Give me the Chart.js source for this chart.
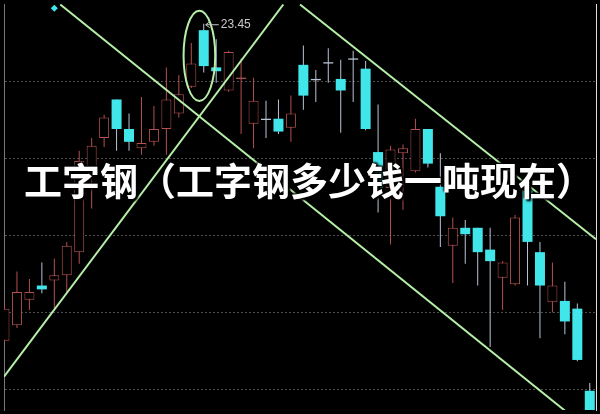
<!DOCTYPE html>
<html>
<head>
<meta charset="utf-8">
<script src="https://cdn.jsdelivr.net/npm/chart.js@4"></script>
<style>
	body { margin: 0; background: #000; }
	#wrap { position: relative; width: 600px; height: 414px; overflow: hidden; }
	#c { display: block; }
	#caption {
		position: absolute;
		left: 24px;
		top: 156px;
		font: 700 38px "Noto Sans CJK SC", sans-serif;
		line-height: 46px;
		color: #fff;
		white-space: nowrap;
		text-shadow: 2px 2px 2px #000, -1px -1px 2px #000, 2px -1px 2px #000;
	}
</style>
</head>
<body>
<div id="wrap">
	<canvas id="c" width="600" height="414"></canvas>
	<div id="caption">工字钢（工字钢多少钱一吨现在）</div>
</div>
<script>
const opens = [20.98, 21.10, 21.30, 21.41, 21.45, 21.49, 21.67, 22.27, 22.56, 22.86,
	22.63, 22.48, 22.53, 22.63, 22.75, 22.96, 23.40, 23.11, 22.93, 23.02,
	22.67, 22.71, 22.71, 22.64, 23.13, 23.02, 23.15, 23.02, 23.18, 23.10,
	22.45, 22.17, 22.44, 22.30, 22.63, 22.18, 21.72, 21.86, 21.86, 21.69,
	21.47, 21.42, 22.15, 21.67, 21.28, 21.29, 21.23, 20.59];
const closes = [21.23, 21.36, 21.36, 21.38, 21.49, 21.72, 22.38, 22.50, 22.72, 22.63,
	22.53, 22.52, 22.63, 22.86, 22.90, 23.14, 23.12, 23.08, 23.23, 23.03,
	22.85, 22.70, 22.61, 22.75, 22.89, 23.01, 23.14, 22.93, 23.17, 22.63,
	22.17, 22.47, 22.48, 22.63, 22.36, 21.95, 21.86, 21.81, 21.67, 21.60,
	21.59, 21.94, 21.75, 21.41, 21.41, 21.13, 20.83, 20.39];
const highs = [21.25, 21.52, 21.46, 21.59, 21.62, 21.75, 22.46, 22.56, 22.74, 22.86,
	22.75, 22.88, 22.81, 23.11, 23.05, 23.30, 23.45, 23.33, 23.24, 23.18,
	23.03, 22.85, 22.86, 22.89, 23.28, 23.09, 23.26, 23.17, 23.24, 23.16,
	22.82, 22.50, 22.51, 22.71, 22.63, 22.44, 21.94, 21.92, 21.86, 21.86,
	21.60, 21.96, 22.17, 21.75, 21.59, 21.44, 21.27, 20.65];
const lows = [20.97, 21.08, 21.22, 21.35, 21.23, 21.36, 21.58, 22.01, 22.49, 22.46,
	22.46, 22.43, 22.50, 22.43, 22.72, 22.95, 23.07, 22.99, 22.92, 22.59,
	22.48, 22.56, 22.59, 22.53, 22.78, 22.84, 22.99, 22.60, 22.84, 22.62,
	21.98, 21.73, 22.00, 22.29, 22.33, 21.71, 21.43, 21.58, 21.41, 20.93,
	21.22, 21.41, 21.41, 21.00, 21.20, 21.03, 20.82, 20.35];

const gridPrices = [20.6, 21.2, 21.8, 22.4, 23.0];

// hand drawn trend lines (candle index, price)
const trendDown1 = [{ x: 4.48, y: 23.60 }, { x: 47.5, y: 20.24 }];
const trendDown2 = [{ x: 23.73, y: 23.60 }, { x: 47.5, y: 21.77 }];
const trendUp = [{ x: -0.04, y: 20.70 }, { x: 22.39, y: 23.60 }];
const ring = { x: 15.65, y: 23.20, rx: 1.27, ry: 0.352 };
const marker = [{ x: 4.0, y: 23.57 }];

const red = "#b45050";
const cyan = "#40e6ea";
const pale = "#b9c4d6";
const green = "#b6eea8";

const idx = opens.map((_, i) => i);
const isUp = i => closes[i] > opens[i];
const isCross = i => Math.abs(closes[i] - opens[i]) < 0.015;

const drawings = {
	id: "drawings",
	afterDatasetsDraw(chart) {
		const { ctx, scales: { x, y } } = chart;
		ctx.save();

		ctx.strokeStyle = green;
		ctx.lineWidth = 2;
		ctx.beginPath();
		ctx.ellipse(
			x.getPixelForValue(ring.x),
			y.getPixelForValue(ring.y),
			Math.abs(x.getPixelForValue(ring.x + ring.rx) - x.getPixelForValue(ring.x)),
			Math.abs(y.getPixelForValue(ring.y + ring.ry) - y.getPixelForValue(ring.y)),
			0, 0, Math.PI * 2
		);
		ctx.stroke();

		const top = highs.indexOf(Math.max(...highs));
		const px = x.getPixelForValue(top);
		const py = y.getPixelForValue(highs[top]);
		ctx.strokeStyle = "#c8c8c8";
		ctx.lineWidth = 1;
		ctx.beginPath();
		ctx.moveTo(px + 2, py + 1);
		ctx.lineTo(px + 15, py + 1);
		ctx.moveTo(px + 2, py + 1);
		ctx.lineTo(px + 6, py - 2);
		ctx.moveTo(px + 2, py + 1);
		ctx.lineTo(px + 6, py + 4);
		ctx.stroke();
		ctx.fillStyle = "#c8c8c8";
		ctx.font = "12px 'Liberation Sans', sans-serif";
		ctx.textBaseline = "middle";
		ctx.fillText(highs[top].toFixed(2), px + 17, py + 1);

		ctx.restore();
	}
};

function trend(data) {
	return {
		type: "line",
		data: data,
		borderColor: green,
		borderWidth: 2,
		pointRadius: 0,
		order: 0
	};
}

new Chart(document.getElementById("c"), {
	type: "bar",
	data: {
		datasets: [
			{
				label: "body",
				data: idx.map(i => ({ x: i, y: [opens[i], closes[i]] })),
				grouped: false,
				barThickness: 10,
				order: 1,
				borderSkipped: false,
				inflateAmount: 0,
				backgroundColor: c => isCross(c.dataIndex)
					? (isUp(c.dataIndex) ? red : pale)
					: (isUp(c.dataIndex) ? "#000" : cyan),
				borderColor: red,
				borderWidth: c => isUp(c.dataIndex) && !isCross(c.dataIndex) ? 1 : 0
			},
			{
				label: "wick",
				data: idx.map(i => ({ x: i, y: [lows[i], highs[i]] })),
				grouped: false,
				barThickness: 1,
				order: 2,
				inflateAmount: 0,
				borderWidth: 0,
				backgroundColor: c => isUp(c.dataIndex) ? red : pale
			},
			trend(trendDown1),
			trend(trendDown2),
			trend(trendUp),
			{
				type: "scatter",
				data: marker,
				pointStyle: "rectRot",
				pointRadius: 3.5,
				backgroundColor: cyan,
				borderWidth: 0,
				order: 0
			}
		]
	},
	options: {
		responsive: false,
		animation: false,
		events: [],
		layout: { padding: 0 },
		plugins: {
			legend: { display: false },
			tooltip: { enabled: false }
		},
		scales: {
			x: {
				type: "linear",
				min: -0.04,
				max: 47.5,
				offset: false,
				display: false
			},
			y: {
				min: 20.44,
				max: 23.604,
				ticks: { display: false },
				grid: { color: "#4e4e4e", drawTicks: false },
				border: { display: true, color: "#777", dash: [2, 2] },
				afterBuildTicks: scale => {
					scale.ticks = gridPrices.map(v => ({ value: v }));
				}
			},
			y2: {
				position: "right",
				min: 0,
				max: 1,
				ticks: { display: false },
				grid: { display: false, drawTicks: false },
				border: { display: true, color: "#dddddd" }
			}
		}
	},
	plugins: [drawings]
});
</script>
</body>
</html>
